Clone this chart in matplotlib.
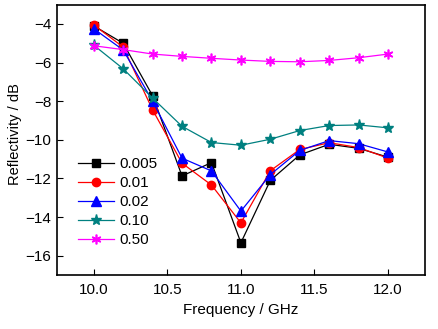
import numpy as np
import matplotlib
matplotlib.use("Agg")
import matplotlib.pyplot as plt

plt.rcParams['font.family'] = ['Liberation Sans', 'DejaVu Sans']

freq = [10.0, 10.2, 10.4, 10.6, 10.8, 11.0, 11.2, 11.4, 11.6, 11.8, 12.0]

r_0005 = [-4.1, -5.0, -7.72, -11.87, -11.18, -15.33, -12.1, -10.78, -10.23, -10.44, -10.9]
r_001 = [-4.05, -5.2, -8.45, -11.21, -12.34, -14.3, -11.6, -10.5, -10.15, -10.4, -10.95]
r_002 = [-4.25, -5.35, -8.0, -10.95, -11.61, -13.69, -11.8, -10.55, -10.04, -10.2, -10.63]
r_010 = [-5.1, -6.32, -7.84, -9.3, -10.14, -10.28, -9.97, -9.52, -9.26, -9.23, -9.38]
r_050 = [-5.13, -5.33, -5.56, -5.68, -5.78, -5.87, -5.94, -5.96, -5.89, -5.75, -5.56]

labels = ["0.005", "0.01", "0.02", "0.10", "0.50"]

fig = plt.figure(figsize=(4.38, 3.29), dpi=100, facecolor="white")
ax = fig.add_axes([0.130, 0.164, 0.840, 0.822])

ax.plot(freq, r_0005, color="black", marker="s", ms=5.5, lw=0.9, label=labels[0])
ax.plot(freq, r_001, color="red", marker="o", ms=6, lw=0.9, label=labels[1])
ax.plot(freq, r_002, color="blue", marker="^", ms=7, lw=0.9, label=labels[2])
ax.plot(freq, r_010, color="#008080", marker="*", ms=8, lw=0.9, label=labels[3])
ax.plot(freq, r_050, color="#ff00ff", marker=(6, 2, 0), ms=7, mew=1.2, lw=0.9, label=labels[4])

ax.set_xlim(9.75, 12.25)
ax.set_ylim(-17, -3)
ax.set_xticks([10.0, 10.5, 11.0, 11.5, 12.0])
ax.set_xticklabels(["10.0", "10.5", "11.0", "11.5", "12.0"])
ax.set_yticks([-16, -14, -12, -10, -8, -6, -4])
ax.tick_params(direction="in", length=4, labelsize=11)
ax.tick_params(axis="x", pad=6)
ax.tick_params(axis="y", pad=4)
for s in ax.spines.values():
    s.set_linewidth(1.2)

ax.set_xlabel("Frequency / GHz", fontsize=11)
ax.set_ylabel("Reflectivity / dB", fontsize=10.5)
ax.yaxis.set_label_coords(-0.095, 0.52)

ax.legend(loc="upper left", bbox_to_anchor=(0.04, 0.458), frameon=False,
          fontsize=11, handlelength=2.4, labelspacing=0.32, borderaxespad=0,
          handletextpad=0.3)

fig.savefig("out.png", dpi=100)
